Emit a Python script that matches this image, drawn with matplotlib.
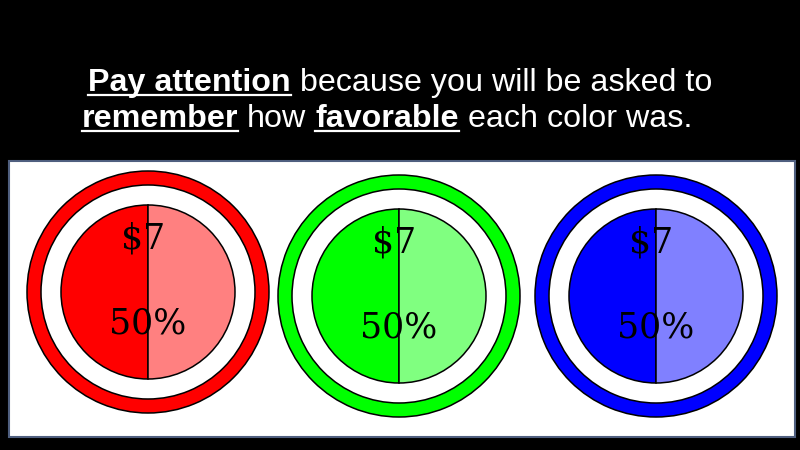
import matplotlib
matplotlib.use('Agg')
import matplotlib.pyplot as plt
from matplotlib.patches import Rectangle

# one entry per colour
color_names = ['red', 'green', 'blue']
full_colors = ['#ff0000', '#00ff00', '#0000ff']
light_colors = ['#ff8080', '#80ff80', '#8080ff']
shares = [50, 50, 50]
amounts = [7, 7, 7]

title_lines = [
    [("Pay attention", True), ("because you will be asked to", False)],
    [("remember", True), ("how", False), ("favorable", True), ("each color was.", False)],
]

W, H = 800, 450
fig = plt.figure(figsize=(8, 4.5), dpi=100, facecolor='black')
ax = fig.add_axes([0, 0, 1, 1])
ax.set_facecolor('black')

# white panel
ax.add_patch(Rectangle((9, H - 437), 786, 276, facecolor='white',
                       edgecolor='#4f5f7f', linewidth=1.5, zorder=0))

centers = [(148, 292), (399, 296), (656, 296)]
for i, name in enumerate(color_names):
    cx, cy = centers[i][0], H - centers[i][1]
    # outer ring
    ax.pie([1], colors=[full_colors[i]], radius=121, center=(cx, cy),
           startangle=90, frame=True,
           wedgeprops=dict(width=14, edgecolor='black', linewidth=1.1))
    # inner pie
    ax.pie([shares[i], 100 - shares[i]], colors=[full_colors[i], light_colors[i]],
           radius=87, center=(cx, cy), startangle=90, frame=True,
           wedgeprops=dict(edgecolor='black', linewidth=1.1))
    ax.text(cx - 5, cy + 54, "$%d" % amounts[i], ha='center', va='center',
            fontsize=25, family='DejaVu Serif', parse_math=False, zorder=5)
    ax.text(cx, cy - 31, "%d%%" % shares[i], ha='center', va='center',
            fontsize=25, family='DejaVu Serif', zorder=5)

ax.set_xlim(0, W)
ax.set_ylim(0, H)
ax.axis('off')

# title with underlined bold words
renderer = fig.canvas.get_renderer()
tfont = dict(fontsize=23.2, family='Liberation Sans', color='white')


def measure(s, bold):
    t = ax.text(0, 0, s, weight='bold' if bold else 'normal', **tfont)
    w = t.get_window_extent(renderer).width
    t.remove()
    return w


space = measure('x x', False) - measure('xx', False)
line_pos = [(400, H - 91), (387, H - 127)]
for words, (lx, base) in zip(title_lines, line_pos):
    widths = [measure(s, b) for s, b in words]
    total = sum(widths) + space * (len(words) - 1)
    x = lx - total / 2
    for (s, b), wd in zip(words, widths):
        ax.text(x, base, s, ha='left', va='baseline',
                weight='bold' if b else 'normal', **tfont)
        if b:
            ax.plot([x, x + wd], [base - 4, base - 4], color='white', lw=1.6)
        x += wd + space

fig.savefig('out.png', dpi=100, facecolor='black')
